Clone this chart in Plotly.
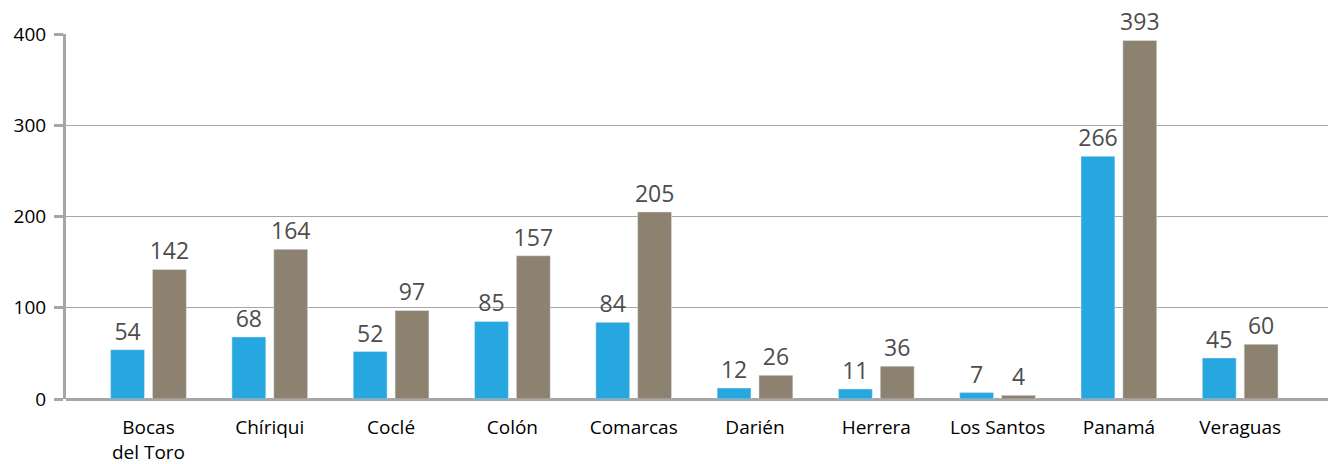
import plotly.graph_objects as go

provincias = ["Bocas<br>del Toro", "Chíriqui", "Coclé", "Colón", "Comarcas",
              "Darién", "Herrera", "Los Santos", "Panamá", "Veraguas"]
serie_azul = [54, 68, 52, 85, 84, 12, 11, 7, 266, 45]
serie_gris = [142, 164, 97, 157, 205, 26, 36, 4, 393, 60]

fuente = "Open Sans"

fig = go.Figure()
for valores, color in [(serie_azul, "#26A7DF"), (serie_gris, "#8D8170")]:
    fig.add_trace(go.Bar(
        x=provincias, y=valores, marker_color=color,
        text=valores, textposition="outside", cliponaxis=False,
        constraintext="none",
        textfont=dict(size=23, color="#4d4d4d", family=fuente),
    ))

fig.update_layout(
    width=1328, height=456,
    barmode="group", bargap=0.31, bargroupgap=0.19,
    showlegend=False,
    plot_bgcolor="white", paper_bgcolor="white",
    margin=dict(l=58, r=0, t=26, b=65),
    font=dict(family=fuente, size=19, color="black"),
    xaxis=dict(
        range=[-0.68, 9.79], showgrid=False, ticks="",
        tickfont=dict(size=19, color="black"),
        ticklabelstandoff=15,
        showline=False,
    ),
    yaxis=dict(
        range=[0, 400], tickvals=[0, 100, 200, 300, 400],
        showgrid=True, gridcolor="#a6a6a6", gridwidth=1,
        showline=True, linecolor="#a6a6a6", linewidth=3,
        ticks="outside", ticklen=9, tickwidth=3, tickcolor="#a6a6a6",
        ticklabelstandoff=4,
        zeroline=True, zerolinecolor="#a6a6a6", zerolinewidth=3,
        tickfont=dict(size=19, color="black"),
    ),
)

fig.write_html("out.html")
